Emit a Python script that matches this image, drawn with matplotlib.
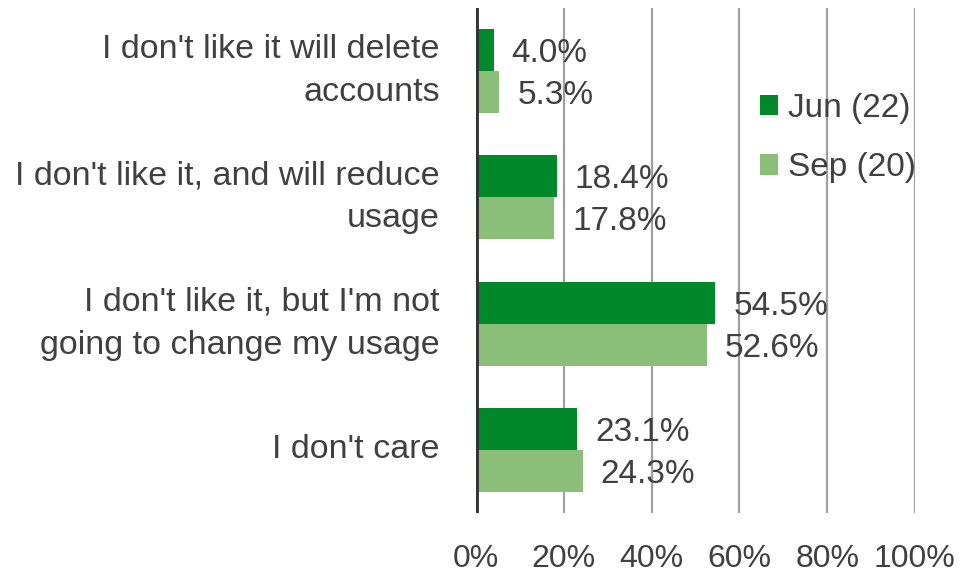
import matplotlib
matplotlib.use("Agg")
import matplotlib.pyplot as plt
import numpy as np

# data
categories = [
    "I don't like it will delete\naccounts",
    "I don't like it, and will reduce\nusage",
    "I don't like it, but I'm not\ngoing to change my usage",
    "I don't care",
]
jun_values = [4.0, 18.4, 54.5, 23.1]
sep_values = [5.3, 17.8, 52.6, 24.3]
series_names = ["Jun (22)", "Sep (20)"]
x_ticks = [0, 20, 40, 60, 80, 100]

DARK = "#00882B"
LIGHT = "#8BBE78"
TXT = "#404040"
FS = 24

plt.rcParams["font.family"] = ["Liberation Sans", "DejaVu Sans"]

fig = plt.figure(figsize=(9.62, 5.75), dpi=100)
ax = fig.add_axes([476 / 962, 1 - 513 / 575, (915 - 476) / 962, (513 - 8) / 575])

h = 0.333
y = np.arange(len(categories))
b1 = ax.barh(y - h / 2, jun_values, height=h, color=DARK, label=series_names[0], zorder=3)
b2 = ax.barh(y + h / 2, sep_values, height=h, color=LIGHT, label=series_names[1], zorder=3)

for bars, vals in ((b1, jun_values), (b2, sep_values)):
    for bar, v in zip(bars, vals):
        ax.annotate(f"{v:.1f}%", (bar.get_width(), bar.get_y() + bar.get_height() / 2),
                    xytext=(13, 0), textcoords="offset points", ha="left",
                    va="center_baseline", fontsize=FS, color=TXT, zorder=4)

ax.set_xlim(0, 100)
ax.set_ylim(len(categories) - 0.5, -0.5)
ax.set_xticks(x_ticks)
ax.set_xticklabels([f"{t}%" for t in x_ticks])
ax.set_yticks(y)
ax.set_yticklabels(categories, linespacing=1.5)
ax.tick_params(axis="x", length=0, pad=22, labelsize=FS - 1, labelcolor=TXT)
ax.tick_params(axis="y", length=0, pad=26, labelsize=FS + 0.5, labelcolor=TXT)
for lab in ax.get_yticklabels():
    lab.set_horizontalalignment("right")
    lab.set_verticalalignment("center")

ax.grid(axis="x", color="#A0A0A0", linewidth=1.6, zorder=0)
for s in ax.spines.values():
    s.set_visible(False)
ax.axvline(0, color="#333333", linewidth=3.5, zorder=5)

ax.legend(loc="upper left", bbox_to_anchor=(760 / 962, 1 - 93 / 575),
          bbox_transform=fig.transFigure, frameon=False, fontsize=FS,
          handlelength=0.55, handleheight=0.55, handletextpad=0.3,
          labelspacing=0.85, borderpad=0, borderaxespad=0, labelcolor=TXT)

fig.savefig("out.png", dpi=100)
